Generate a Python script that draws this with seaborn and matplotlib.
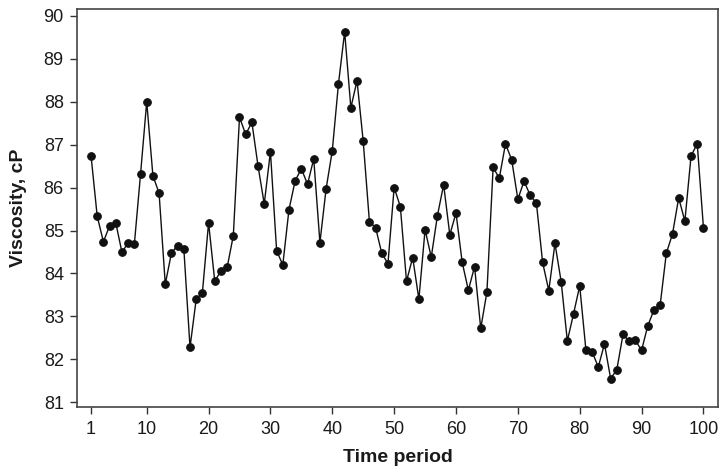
import numpy as np
import pandas as pd
import matplotlib
matplotlib.use('Agg')
import matplotlib.pyplot as plt
import seaborn as sns

# ============================================================
# DATA
# ============================================================

periods = list(range(1, 101))

viscosity = [
    86.74, 85.33, 84.74, 85.11, 85.18, 84.49, 84.72, 84.68, 86.31, 88.00,
    86.28, 85.87, 83.75, 84.48, 84.65, 84.58, 82.28, 83.40, 83.55, 85.18,
    83.82, 84.06, 84.14, 84.88, 87.64, 87.24, 87.52, 86.50, 85.62, 86.84,
    84.53, 84.20, 85.49, 86.16, 86.44, 86.08, 86.67, 84.72, 85.97, 86.86,
    88.42, 89.63, 87.86, 88.49, 87.08, 85.21, 85.07, 84.47, 84.23, 86.00,
    85.56, 83.82, 84.37, 83.40, 85.02, 84.38, 85.35, 86.07, 84.90, 85.41,
    84.26, 83.61, 84.16, 82.72, 83.57, 86.47, 86.22, 87.02, 86.65, 85.73,
    86.15, 85.82, 85.64, 84.26, 83.60, 84.70, 83.81, 82.43, 83.06, 83.71,
    82.22, 82.18, 81.82, 82.36, 81.55, 81.76, 82.58, 82.42, 82.44, 82.21,
    82.78, 83.15, 83.26, 84.47, 84.92, 85.76, 85.22, 86.74, 87.02, 85.07,
]

x_ticks = [1, 10, 20, 30, 40, 50, 60, 70, 80, 90, 100]
y_ticks = list(range(81, 91))

df = pd.DataFrame({'period': periods, 'viscosity': viscosity})

# ============================================================
# PLOT
# ============================================================

sns.set_style('ticks')
plt.rcParams['font.family'] = ['Liberation Sans', 'DejaVu Sans']

fig = plt.figure(figsize=(7.27, 4.76), dpi=100)
ax = fig.add_axes([0.106, 0.145, 0.882, 0.836])

sns.lineplot(
    data=df, x='period', y='viscosity', ax=ax,
    color='#111111', linewidth=1.0,
    marker='o', markersize=5.5, markeredgecolor='#111111',
    markerfacecolor='#111111'
)

ax.set_xlim(-1.26, 102.4)
ax.set_ylim(80.89, 90.16)
ax.set_xticks(x_ticks)
ax.set_yticks(y_ticks)
ax.tick_params(axis='both', direction='out', length=5, width=1,
               color='#333333', labelsize=13, labelcolor='#1a1a1a')
ax.tick_params(axis='y', pad=4.5)
ax.tick_params(axis='x', pad=5)

for s in ax.spines.values():
    s.set_visible(True)
    s.set_color('#444444')
    s.set_linewidth(1.2)

ax.set_xlabel('Time period', fontsize=14, fontweight='bold',
              color='#1a1a1a', labelpad=8)
ax.set_ylabel('Viscosity, cP', fontsize=14, fontweight='bold',
              color='#1a1a1a', labelpad=12)

fig.savefig('out.png', dpi=100)
